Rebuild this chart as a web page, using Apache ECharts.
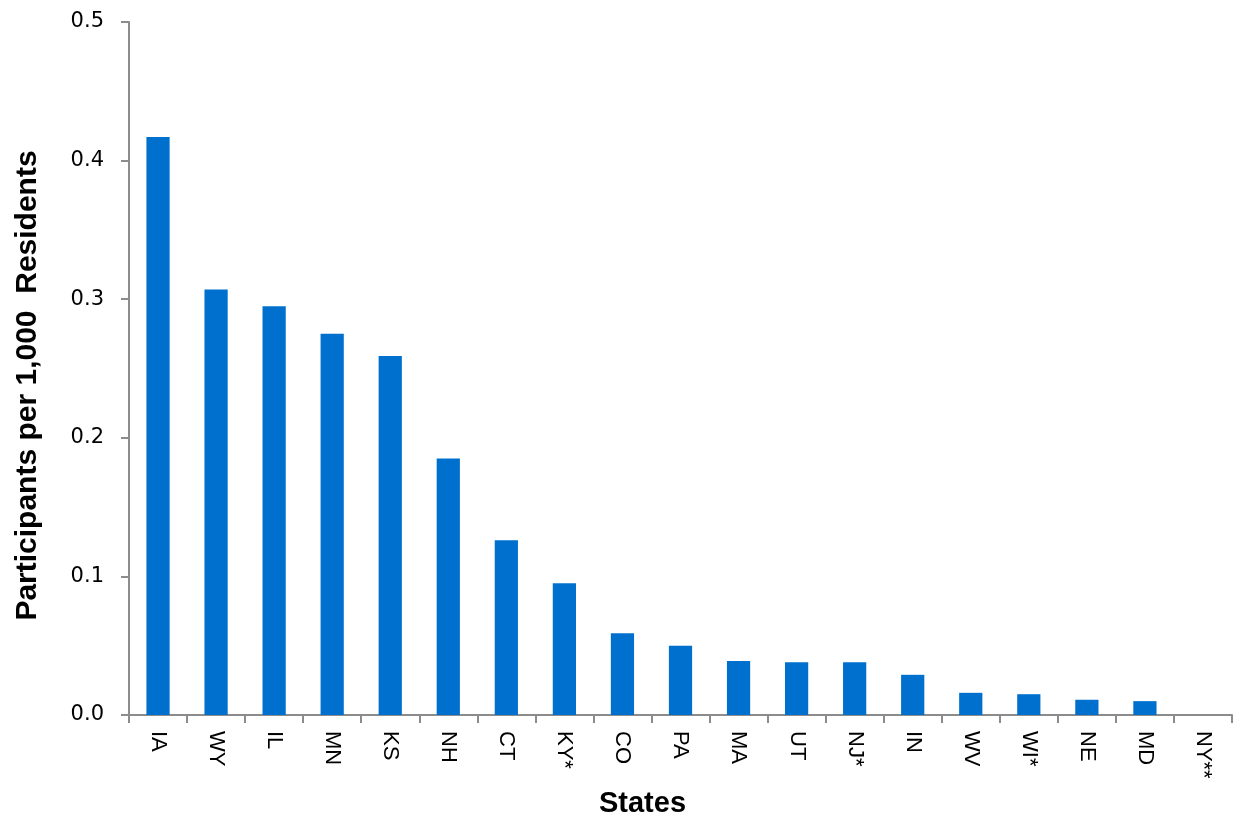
<!DOCTYPE html>
<html>
<head>
<meta charset="utf-8">
<script src="https://cdn.jsdelivr.net/npm/echarts@6/dist/echarts.min.js"></script>
<style>
html,body{margin:0;padding:0;background:#fff;overflow:hidden;}
#chart{width:1233px;height:819px;}
</style>
</head>
<body>
<div id="chart"></div>
<script>
const categories = ["IA","WY","IL","MN","KS","NH","CT","KY*","CO","PA","MA","UT","NJ*","IN","WV","WI*","NE","MD","NY**"];
const values = [0.417,0.307,0.295,0.275,0.259,0.185,0.126,0.095,0.059,0.050,0.039,0.038,0.038,0.029,0.016,0.015,0.011,0.010,0];
const yTicks = {min:0, max:0.5, interval:0.1};
const yTitle = "Participants per 1,000  Residents";
const xTitle = "States";

const chart = echarts.init(document.getElementById('chart'), null, {renderer:'canvas'});
chart.setOption({
  animation:false,
  backgroundColor:'#fff',
  grid:{left:129, right:1, top:22, bottom:104, containLabel:false, outerBoundsMode:'none'},
  xAxis:{
    type:'category',
    data:categories,
    name:xTitle,
    nameLocation:'middle',
    nameGap:74,
    nameTextStyle:{fontFamily:'Liberation Sans', fontWeight:'bold', fontSize:29, color:'#000', padding:[0,76,0,0]},
    axisLine:{lineStyle:{color:'#8c8c8c', width:2}},
    axisTick:{show:true, length:8, lineStyle:{color:'#8c8c8c', width:2}},
    axisLabel:{rotate:-90, fontFamily:'Liberation Sans', fontSize:22, color:'#000', margin:16, interval:0},
    splitLine:{show:false}
  },
  yAxis:{
    type:'value',
    min:yTicks.min, max:yTicks.max, interval:yTicks.interval,
    name:yTitle,
    nameLocation:'middle',
    nameGap:86,
    nameRotate:90,
    nameTextStyle:{fontFamily:'Liberation Sans', fontWeight:'bold', fontSize:30, color:'#000', padding:[0,34,0,0]},
    axisLine:{show:true, lineStyle:{color:'#8c8c8c', width:2}},
    axisTick:{show:true, length:8, lineStyle:{color:'#8c8c8c', width:2}},
    axisLabel:{formatter:v=>v.toFixed(1), fontFamily:'DejaVu Sans', fontSize:21, color:'#000', margin:25},
    splitLine:{show:false}
  },
  series:[{
    type:'bar',
    data:values,
    barWidth:'40%',
    itemStyle:{color:'#0070ce'}
  }]
});
</script>
</body>
</html>
